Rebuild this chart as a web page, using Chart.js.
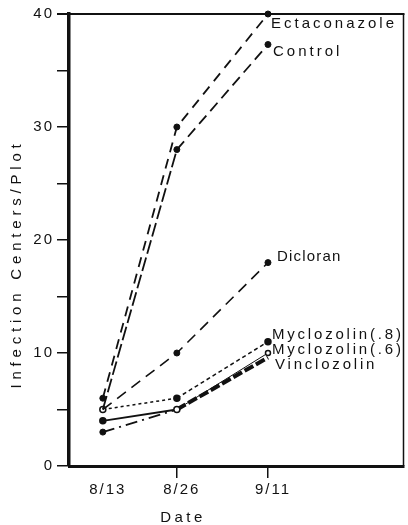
<!DOCTYPE html>
<html>
<head>
<meta charset="utf-8">
<script src="https://cdn.jsdelivr.net/npm/chart.js@4.4.1/dist/chart.umd.min.js"></script>
<style>
  html, body { margin: 0; padding: 0; background: #fff; }
  #wrap { width: 408px; height: 525px; position: relative; }
</style>
</head>
<body>
<div id="wrap"><canvas id="c" width="408" height="525"></canvas></div>
<script>
// ---- data ----
const dateLabels = ['8/13', '8/26', '9/11'];
const dayOffsets = [0, 13, 29];           // days after 8/13
const seriesNames = ['Ectaconazole', 'Control', 'Dicloran', 'Myclozolin(.8)', 'Myclozolin(.6)', 'Vinclozolin'];
const ectaconazole = [6, 30, 40];
const control = [5, 28, 37.3];
const dicloran = [5, 10, 18];
const myclozolin8 = [5, 6, 11];
const myclozolin6 = [4, 5, 10];
const vinclozolin = [3, 5, 9.6];
const yTickValues = [0, 5, 10, 15, 20, 25, 30, 35, 40];
const yTickLabels = ['0', '', '10', '', '20', '', '30', '', '40'];
const xTitle = 'Date';
const yTitle = 'Infection Centers/Plot';

const FONT = "'Liberation Sans', Arial, Helvetica, sans-serif";
Chart.defaults.font.family = FONT;
Chart.defaults.color = '#111';

function pts(vals) { return vals.map((v, i) => ({ x: dayOffsets[i], y: v })); }

function segStyle(styles) {
  return {
    borderDash: ctx => styles[ctx.p0DataIndex].dash,
    borderWidth: ctx => styles[ctx.p0DataIndex].width
  };
}

const datasets = [
  { label: seriesNames[0], data: pts(ectaconazole),
    pointRadius: [3, 3, 3], pointBackgroundColor: '#111',
    segment: segStyle([{ dash: [10, 7], width: 1.8 }, { dash: [10, 7], width: 1.8 }]) },
  { label: seriesNames[1], data: pts(control),
    pointRadius: [0, 3, 3], pointBackgroundColor: '#111',
    segment: segStyle([{ dash: [14, 4], width: 1.8 }, { dash: [11, 6], width: 1.8 }]) },
  { label: seriesNames[2], data: pts(dicloran),
    pointRadius: [0, 3, 3], pointBackgroundColor: '#111',
    segment: segStyle([{ dash: [11, 7], width: 1.6 }, { dash: [11, 7], width: 1.6 }]) },
  { label: seriesNames[3], data: pts(myclozolin8),
    pointRadius: [3, 3, 3], pointBackgroundColor: ['#fff', '#111', '#111'], pointBorderWidth: 1.5,
    segment: segStyle([{ dash: [3, 3], width: 1.5 }, { dash: [4, 3], width: 1.5 }]) },
  { label: seriesNames[4], data: pts(myclozolin6),
    pointRadius: [3, 3, 2.5], pointBackgroundColor: ['#111', '#fff', '#fff'], pointBorderWidth: 1.5,
    segment: segStyle([{ dash: [], width: 1.8 }, { dash: [], width: 1 }]) },
  { label: seriesNames[5], data: pts(vinclozolin),
    pointRadius: [3, 0, 0], pointBackgroundColor: '#111',
    segment: segStyle([{ dash: [12, 5, 2, 5], width: 1.8 }, { dash: [10, 3], width: 4 }]) }
].map(d => Object.assign({
  borderColor: '#111', pointBorderColor: '#111', pointBorderWidth: 1,
  tension: 0, fill: false, clip: false, pointHoverRadius: 3
}, d));

// offsets and spacing of end labels relative to last point
const labelOffsets = [[3, 10], [5, 7], [9, -6], [4, -7], [4, -3], [7, 7]];
const labelSpacing = ['3px', '3px', '1.2px', '2.8px', '2.8px', '2.8px'];

const decor = {
  id: 'decor',
  beforeLayout(chart) { chart.ctx.letterSpacing = '2px'; },
  beforeDraw(chart) { chart.ctx.letterSpacing = '2px'; },
  afterDraw(chart) {
    const ctx = chart.ctx, a = chart.chartArea;
    ctx.save();
    // frame top and right
    ctx.strokeStyle = '#111';
    ctx.lineWidth = 2;
    ctx.beginPath(); ctx.moveTo(a.left - 12, a.top); ctx.lineTo(a.right + 1, a.top); ctx.stroke();
    ctx.lineWidth = 1.5;
    ctx.beginPath(); ctx.moveTo(a.right, a.top); ctx.lineTo(a.right, a.bottom); ctx.stroke();
    // end labels
    ctx.fillStyle = '#111';
    ctx.font = '15px ' + FONT;
    ctx.textAlign = 'left';
    ctx.textBaseline = 'middle';
    chart.data.datasets.forEach((ds, i) => {
      const meta = chart.getDatasetMeta(i);
      const p = meta.data[meta.data.length - 1];
      ctx.letterSpacing = labelSpacing[i];
      ctx.fillText(ds.label, p.x + labelOffsets[i][0], p.y + labelOffsets[i][1]);
    });
    // x title
    ctx.letterSpacing = '3.5px';
    ctx.textAlign = 'center';
    ctx.fillText(xTitle, 183, 518);
    // y title
    ctx.letterSpacing = '4.8px';
    ctx.translate(17, 264);
    ctx.rotate(-Math.PI / 2);
    ctx.fillText(yTitle, 0, 0);
    ctx.restore();
  }
};

new Chart(document.getElementById('c'), {
  type: 'line',
  data: { datasets },
  options: {
    responsive: false,
    animation: false,
    events: [],
    layout: { padding: { left: 0, top: 14, right: 3, bottom: 0 } },
    plugins: { legend: { display: false }, tooltip: { enabled: false } },
    scales: {
      x: {
        type: 'linear',
        min: -5.94, max: 52.8,
        afterFit: s => { s.height = 59; },
        afterBuildTicks: s => { s.ticks = dayOffsets.map(v => ({ value: v })); },
        ticks: {
          callback: v => dateLabels[dayOffsets.indexOf(v)],
          font: { size: 15 }, color: '#111', padding: 3, labelOffset: 5,
          maxRotation: 0, autoSkip: false
        },
        grid: {
          drawOnChartArea: false, tickLength: 12, lineWidth: 1.5,
          tickColor: ctx => ctx.index === 0 ? 'rgba(0,0,0,0)' : '#111'
        },
        border: { display: true, color: '#111', width: 3 }
      },
      y: {
        min: 0, max: 40,
        afterFit: s => { s.width = 69; },
        afterBuildTicks: s => { s.ticks = yTickValues.map(v => ({ value: v })); },
        ticks: {
          callback: v => yTickLabels[yTickValues.indexOf(v)],
          font: { size: 15 }, color: '#111', padding: 3, autoSkip: false
        },
        grid: { drawOnChartArea: false, tickLength: 12, lineWidth: 1.5, tickColor: '#111' },
        border: { display: true, color: '#111', width: 3.5 }
      }
    }
  },
  plugins: [decor]
});
</script>
</body>
</html>
